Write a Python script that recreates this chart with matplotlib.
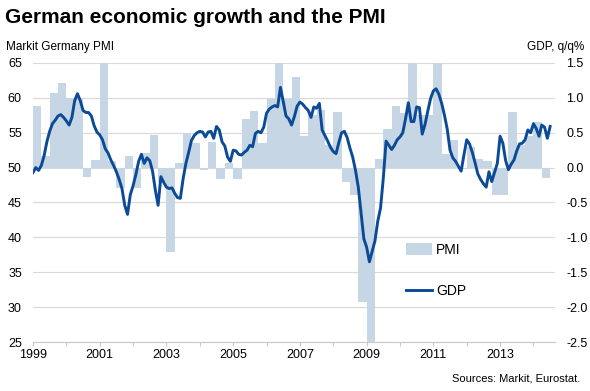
import numpy as np
import matplotlib.pyplot as plt
import matplotlib as mpl

mpl.rcParams['font.family'] = ['Liberation Sans', 'DejaVu Sans']

# quarterly bars (right axis, q/q %), 1999Q1 .. 2014Q2
gdp_q = [0.89, 0.17, 1.07, 1.21, 1.0, 1.0, -0.14, 0.11,
         1.5, 0.1, -0.29, 0.17, -0.29, 0.21, 0.47, -0.2,
         -1.21, 0.06, 0.5, 0.35, -0.03, 0.37, -0.16, 0.07,
         -0.16, 0.69, 0.81, 0.35, 0.99, 1.5, 0.99, 1.30,
         0.46, 0.76, 0.83, 0.33, 0.80, -0.2, -0.39, -1.93,
         -2.5, 0.13, 0.55, 0.88, 0.78, 1.5, 0.75, 0.76,
         1.5, 0.2, 0.4, -0.02, 0.3, 0.13, 0.1, -0.39,
         -0.39, 0.8, 0.33, 0.45, 0.66, -0.15]

# monthly line (left axis), Jan 1999 .. Jul 2014
pmi_m = [49.3, 50.0, 49.6, 50.3, 51.7, 53.7, 55.2, 56.3, 56.8, 57.4, 57.6, 57.2,
         56.7, 56.1, 57.2, 59.6, 60.6, 59.6, 58.2, 57.9, 57.9, 57.4, 56.0, 55.1,
         54.7, 54.0, 52.7, 52.1, 51.1, 50.3, 49.4, 48.3, 47.0, 44.6, 43.3, 46.1,
         47.4, 49.0, 50.9, 51.9, 50.6, 51.4, 51.0, 49.5, 46.8, 44.6, 48.7, 47.9,
         47.2, 47.0, 47.1, 46.3, 45.7, 45.6, 48.4, 50.6, 52.2, 53.9, 54.6, 55.0,
         55.2, 55.1, 54.4, 55.1, 55.2, 54.2, 55.9, 55.4, 53.7, 53.1, 51.5, 50.9,
         52.5, 52.4, 51.9, 51.8, 52.2, 52.5, 53.2, 53.0, 54.9, 55.2, 55.0, 55.8,
         57.8, 58.4, 58.7, 58.9, 58.7, 61.5, 59.5, 57.4, 57.0, 56.1, 57.3, 58.8,
         59.4, 59.1, 58.6, 58.2, 57.2, 58.7, 58.5, 59.2, 55.4, 54.6, 53.8, 52.9,
         52.3, 52.0, 53.6, 55.0, 55.2, 54.3, 52.8, 51.5, 49.6, 47.2, 43.5, 39.8,
         38.6, 36.5, 38.0, 39.5, 42.3, 44.2, 48.5, 53.8, 53.2, 52.6, 53.2, 54.0,
         54.4, 55.0, 57.0, 59.3, 56.6, 56.6, 58.7, 58.6, 54.8, 56.2, 58.1, 59.9,
         61.0, 61.3, 60.5, 59.2, 57.5, 55.5, 52.5, 51.4, 50.9, 50.2, 49.5, 51.8,
         54.0, 53.4, 52.2, 50.7, 49.1, 48.3, 47.7, 47.2, 49.4, 48.0, 49.3, 50.6,
         54.5, 53.5, 51.0, 49.7, 50.5, 51.1, 52.4, 53.4, 53.5, 54.0, 55.4, 55.0,
         56.3, 55.6, 54.5, 56.1, 55.8, 54.2, 55.9]

year_ticks = list(range(1999, 2015, 2))

t_q = 1999 + np.arange(len(gdp_q)) / 4
t_m = 1999 + np.arange(len(pmi_m)) / 12

bar_col = '#c6d6e4'
line_col = '#0b4a96'
grid_col = '#d9d9d9'

fig = plt.figure(figsize=(5.9, 3.91), dpi=100)
ax = fig.add_axes([0.0559, 0.1253, 0.885, 0.7136])
ax.bar(t_q, gdp_q, width=0.25, align='edge', color=bar_col, label='PMI', zorder=2)
ax.set_ylim(-2.5, 1.5)
gdp_ticks = np.arange(-2.5, 1.51, 0.5)
ax.set_yticks(gdp_ticks)
ax.set_yticklabels([f'{v:.1f}' for v in gdp_ticks])
ax.grid(axis='y', color=grid_col, lw=0.8, zorder=0)
ax.set_axisbelow(True)

ax2 = ax.twinx()
ax2.plot(t_m, pmi_m, color=line_col, lw=2.1, label='GDP', zorder=3)
ax2.set_ylim(25, 65)
ax2.set_yticks(range(25, 66, 5))
# twinx moves ticks around, so set sides afterwards
ax.yaxis.tick_right()
ax2.yaxis.tick_left()

ax.set_xlim(1999, 2014.65)
ax.set_xticks(range(1999, 2015))
ax.set_xticklabels([str(y) if y in year_ticks else '' for y in range(1999, 2015)])

for a in (ax, ax2):
    for s in a.spines.values():
        s.set_visible(False)
    a.tick_params(axis='y', length=0, labelsize=9, pad=8)
ax.spines['bottom'].set_visible(True)
ax.spines['bottom'].set_color('#c8c8c8')
ax.tick_params(axis='x', length=3, color='#c8c8c8', labelsize=9, pad=2)

h1, l1 = ax.get_legend_handles_labels()
h2, l2 = ax2.get_legend_handles_labels()
ax2.legend(h1 + h2, l1 + l2, loc='upper left', bbox_to_anchor=(0.69, 0.40),
           frameon=False, fontsize=10, handlelength=1.9, handleheight=0.9,
           labelspacing=1.95, handletextpad=0.3)

fig.text(0.008, 0.955, 'German economic growth and the PMI', fontsize=15,
         fontweight='bold', va='center', ha='left')
fig.text(0.01, 0.88, 'Markit Germany PMI', fontsize=8.5, va='center', ha='left')
fig.text(0.991, 0.88, 'GDP, q/q%', fontsize=8.5, va='center', ha='right')
fig.text(0.983, 0.033, 'Sources: Markit, Eurostat.', fontsize=8, va='center', ha='right')

fig.savefig('out.png', dpi=100)
